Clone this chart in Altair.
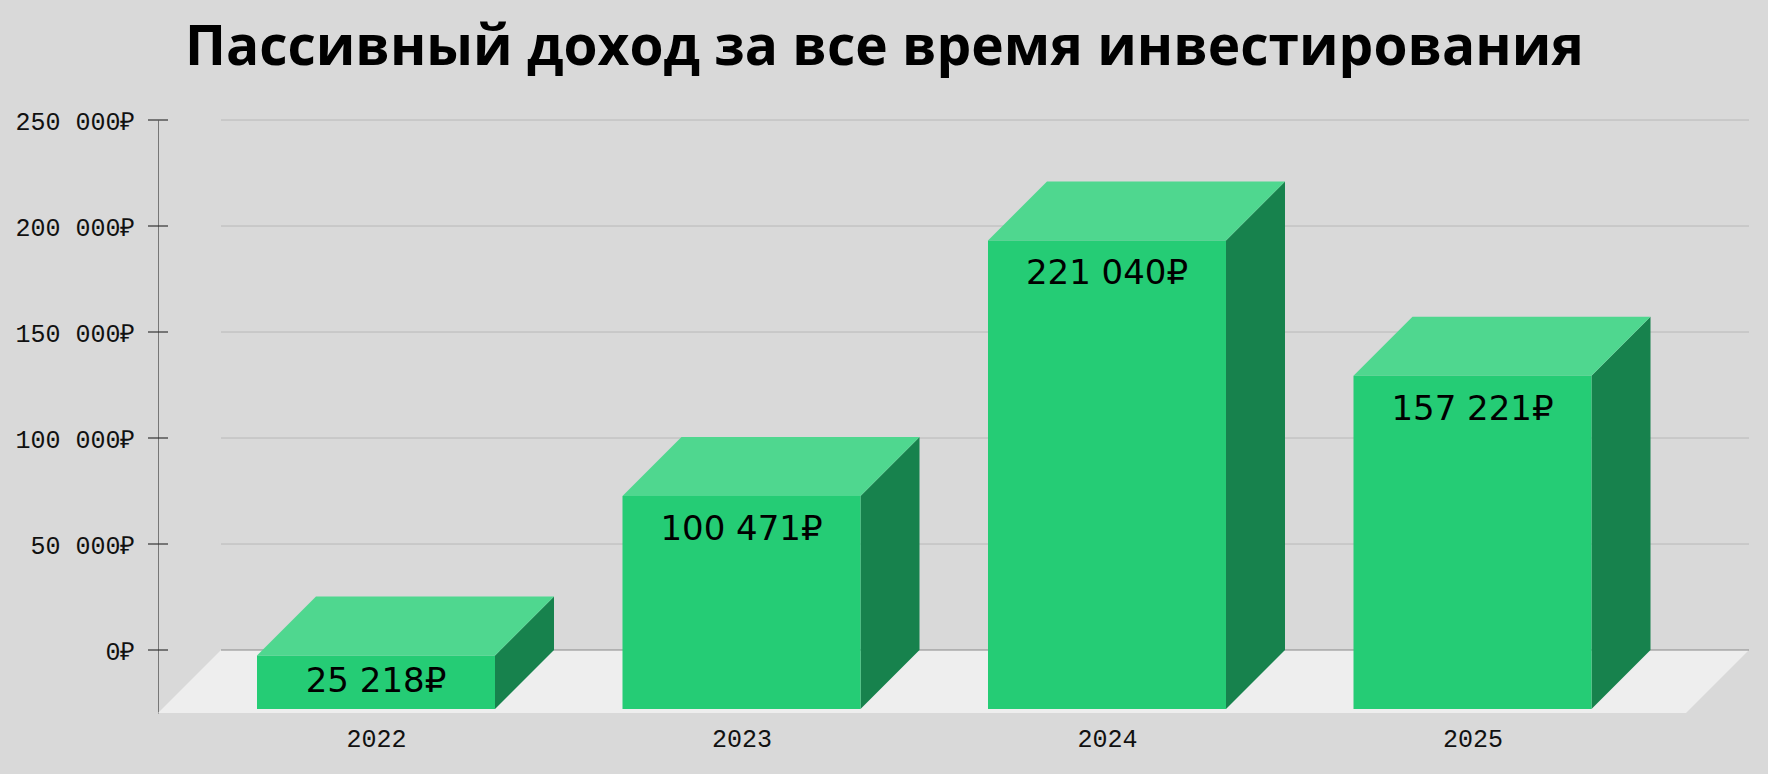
import altair as alt
import pandas as pd

years = ["2022", "2023", "2024", "2025"]
income = [25218, 100471, 221040, 157221]
income_labels = ["25 218₽", "100 471₽", "221 040₽", "157 221₽"]
tick_values = [0, 50000, 100000, 150000, 200000, 250000]
tick_labels = ["0₽", "50\u00a0000₽", "100\u00a0000₽", "150\u00a0000₽", "200\u00a0000₽", "250\u00a0000₽"]
title_text = "Пассивный доход за все время инвестирования"

BG = "#d9d9d9"
FRONT, TOP, SIDE = "#25cc75", "#4fd78f", "#17824d"
FLOOR = "#eeeeee"

PLOT_W, PLOT_H = 1591, 593
Y_MAX = 250000
Y_PER_PX = Y_MAX / 530
STEP_PX = 365.5
X_MIN = -218 / STEP_PX
X_MAX = X_MIN + PLOT_W / STEP_PX
HALF = 119 / STEP_PX
BAR_DX, BAR_DY = 59 / STEP_PX, 59 * Y_PER_PX
FLOOR_DX, FLOOR_DY = 63 / STEP_PX, 63 * Y_PER_PX
LABEL_DROP = 34 * Y_PER_PX
Y_MIN = -FLOOR_DY

xs = alt.Scale(domain=[X_MIN, X_MAX], nice=False, zero=False)
ys = alt.Scale(domain=[Y_MIN, Y_MAX], nice=False, zero=False)

front_rows, top_rows, side_rows, label_rows = [], [], [], []
for i, (yr, v, lab) in enumerate(zip(years, income, income_labels)):
    ft = v - BAR_DY
    front_rows.append(dict(x=i - HALF, x2=i + HALF, y=-BAR_DY, y2=ft))
    top_rows += [dict(b=yr, y=ft, x=i - HALF, x2=i + HALF),
                 dict(b=yr, y=v, x=i - HALF + BAR_DX, x2=i + HALF + BAR_DX)]
    side_rows += [dict(b=yr, x=i + HALF, y=-BAR_DY, y2=ft),
                  dict(b=yr, x=i + HALF + BAR_DX, y=0, y2=v)]
    label_rows.append(dict(x=i, y=max(ft - LABEL_DROP, (ft - BAR_DY) / 2), t=lab))

floor_rows = [dict(y=-FLOOR_DY, x=X_MIN, x2=X_MAX - FLOOR_DX),
              dict(y=0, x=X_MIN + FLOOR_DX, x2=X_MAX)]
grid_rows = [dict(y=t, x=X_MIN + FLOOR_DX, x2=X_MAX) for t in tick_values]
tick_df = pd.DataFrame({"y": tick_values})

label_expr = "{" + ",".join(f"'{v}':'{l}'" for v, l in zip(tick_values, tick_labels)) + "}[datum.value]"
year_expr = "[" + ",".join(f"'{y}'" for y in years) + "][datum.value]"

y_axis = alt.Axis(
    values=tick_values, title=None, grid=False, ticks=False, domain=True,
    domainColor="#777777", domainWidth=1, labelExpr=label_expr,
    labelFont="Liberation Mono", labelFontSize=25, labelColor="#111111",
    labelPadding=23, labelOffset=1)
x_axis = alt.Axis(
    values=[0, 1, 2, 3], title=None, grid=False, ticks=False, domain=False,
    labelExpr=year_expr, labelFont="Liberation Mono", labelFontSize=25,
    labelColor="#111111", labelPadding=13)

X = lambda: alt.X("x:Q", scale=xs, axis=x_axis)
Y = lambda: alt.Y("y:Q", scale=ys, axis=y_axis)

floor = alt.Chart(pd.DataFrame(floor_rows)).mark_area(color=FLOOR, orient="horizontal").encode(
    y=Y(), x=X(), x2="x2:Q")
grid = alt.Chart(pd.DataFrame(grid_rows)).mark_rule(strokeWidth=1).encode(
    y=Y(), x=X(), x2="x2:Q",
    color=alt.condition("datum.y === 0", alt.value("#888888"), alt.value("#b8b8b8")))
ticks = alt.Chart(tick_df).mark_rule(color="#333333", strokeWidth=1.2).encode(
    y=Y(), x=alt.value(-10), x2=alt.value(10))
side = alt.Chart(pd.DataFrame(side_rows)).mark_area(color=SIDE, orient="vertical").encode(
    x=X(), y=Y(), y2="y2:Q", detail="b:N")
top = alt.Chart(pd.DataFrame(top_rows)).mark_area(color=TOP, orient="horizontal").encode(
    y=Y(), x=X(), x2="x2:Q", detail="b:N")
front = alt.Chart(pd.DataFrame(front_rows)).mark_rect(color=FRONT).encode(
    x=X(), x2="x2:Q", y=Y(), y2="y2:Q")
labels = alt.Chart(pd.DataFrame(label_rows)).mark_text(
    font="DejaVu Sans", fontSize=34, color="#000000", baseline="middle", align="center").encode(
    x=X(), y=Y(), text="t:N")

chart = alt.layer(floor, grid, ticks, side, top, front, labels).properties(
    width=PLOT_W, height=PLOT_H,
    background=BG,
    padding={"left": 158, "top": 120, "right": 10, "bottom": 50},
    autosize=alt.AutoSizeParams(type="none"),
    title=alt.TitleParams(title_text, anchor="start", font="Open Sans", fontSize=55,
                          fontWeight="bold", color="#000000", offset=32, dx=170),
).configure_view(stroke=None)

chart.save("out.html", embed_options={"renderer": "svg", "actions": False,
                                      "defaultStyle": "html,body{margin:0;background:#d9d9d9}"})
